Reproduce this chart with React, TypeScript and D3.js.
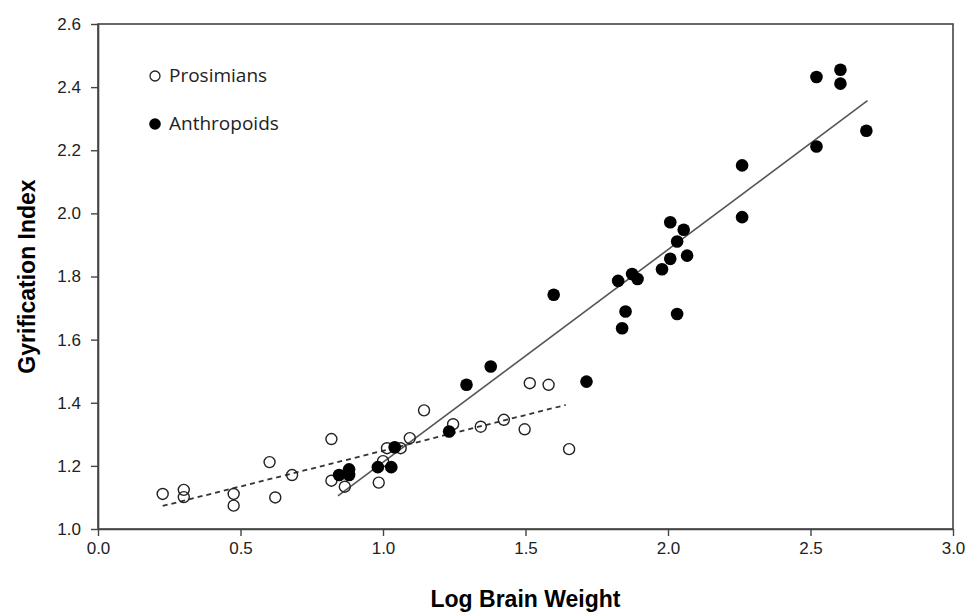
import React, { useEffect, useRef } from 'react'
import * as d3 from 'd3'

// log brain weight vs gyrification index
const prosimX = [0.227, 0.301, 0.301, 0.476, 0.476, 0.602, 0.622, 0.681, 0.819, 0.819, 0.866, 0.985, 1.0, 1.014, 1.062, 1.094, 1.144, 1.246, 1.343, 1.424, 1.497, 1.515, 1.581, 1.653]
const prosimY = [1.111, 1.124, 1.101, 1.111, 1.074, 1.212, 1.1, 1.171, 1.285, 1.153, 1.134, 1.147, 1.215, 1.256, 1.256, 1.288, 1.376, 1.332, 1.324, 1.346, 1.316, 1.462, 1.457, 1.253]

const anthroX = [0.846, 0.881, 0.881, 0.982, 1.029, 1.041, 1.232, 1.293, 1.378, 1.599, 1.714, 1.825, 1.839, 1.851, 1.874, 1.893, 1.979, 2.008, 2.008, 2.032, 2.032, 2.055, 2.067, 2.26, 2.26, 2.521, 2.521, 2.605, 2.605, 2.696]
const anthroY = [1.171, 1.189, 1.171, 1.196, 1.196, 1.259, 1.309, 1.457, 1.515, 1.742, 1.467, 1.786, 1.636, 1.689, 1.808, 1.792, 1.823, 1.972, 1.856, 1.911, 1.681, 1.948, 1.866, 2.152, 1.988, 2.432, 2.212, 2.455, 2.411, 2.262]

// regression line end points [x0, y0, x1, y1]
const prosimFit = [0.227, 1.073, 1.641, 1.393]
const anthroFit = [0.842, 1.105, 2.7, 2.357]

const xTicks = [0, 0.5, 1.0, 1.5, 2.0, 2.5, 3.0]
const yTicks = [1.0, 1.2, 1.4, 1.6, 1.8, 2.0, 2.2, 2.4, 2.6]

export default function App() {
  const svgRef = useRef<SVGSVGElement>(null)

  useEffect(() => {
    const W = 969, H = 613
    const margin = { top: 24, right: 16, bottom: 84, left: 98 }
    const width = W - margin.left - margin.right
    const height = H - margin.top - margin.bottom

    const x = d3.scaleLinear().domain([0, 3]).range([0, width])
    const y = d3.scaleLinear().domain([1, 2.6]).range([height, 0])

    const root = d3.select(svgRef.current)
    root.selectAll('*').remove()
    root.attr('width', W).attr('height', H)

    const svg = root.append('g')
      .attr('transform', 'translate(' + margin.left + ',' + margin.top + ')')

    // frame
    svg.append('rect')
      .attr('width', width).attr('height', height)
      .attr('fill', 'none').attr('stroke', '#444').attr('stroke-width', 1.6)

    const xAxis = svg.append('g')
      .attr('transform', 'translate(0,' + height + ')')
      .call(d3.axisBottom(x).tickValues(xTicks).tickFormat(d3.format('.1f')).tickSize(7).tickSizeOuter(0))
    const yAxis = svg.append('g')
      .call(d3.axisLeft(y).tickValues(yTicks).tickFormat(d3.format('.1f')).tickSize(7).tickSizeOuter(0))

    ;[xAxis, yAxis].forEach(a => {
      a.select('.domain').attr('stroke', '#444').attr('stroke-width', 1.6)
      a.selectAll('.tick line').attr('stroke', '#444').attr('stroke-width', 1.4)
      a.selectAll('.tick text')
        .style('font', '17px "Liberation Sans", Arial, sans-serif')
        .attr('fill', '#222')
    })
    xAxis.selectAll('.tick text').attr('y', 13)
    yAxis.selectAll('.tick text').attr('x', -17)

    // fit lines
    svg.append('line')
      .attr('x1', x(prosimFit[0])).attr('y1', y(prosimFit[1]))
      .attr('x2', x(prosimFit[2])).attr('y2', y(prosimFit[3]))
      .attr('stroke', '#333').attr('stroke-width', 1.8)
      .attr('stroke-dasharray', '5,4')
    svg.append('line')
      .attr('x1', x(anthroFit[0])).attr('y1', y(anthroFit[1]))
      .attr('x2', x(anthroFit[2])).attr('y2', y(anthroFit[3]))
      .attr('stroke', '#555').attr('stroke-width', 1.6)

    const prosim = prosimX.map((v, i) => ({ x: v, y: prosimY[i] }))
    const anthro = anthroX.map((v, i) => ({ x: v, y: anthroY[i] }))

    svg.append('g').selectAll('circle')
      .data(prosim).enter().append('circle')
      .attr('cx', d => x(d.x)).attr('cy', d => y(d.y))
      .attr('r', 5.5)
      .attr('fill', 'none').attr('stroke', '#222').attr('stroke-width', 1.4)

    svg.append('g').selectAll('circle')
      .data(anthro).enter().append('circle')
      .attr('cx', d => x(d.x)).attr('cy', d => y(d.y))
      .attr('r', 6.3)
      .attr('fill', '#000')

    // legend
    const legend = root.append('g')
    legend.append('circle').attr('cx', 155).attr('cy', 76).attr('r', 5)
      .attr('fill', 'none').attr('stroke', '#222').attr('stroke-width', 1.3)
    legend.append('text').attr('x', 169).attr('y', 82)
      .style('font', '19px "Open Sans", sans-serif').attr('fill', '#222')
      .text('Prosimians')
    legend.append('circle').attr('cx', 155).attr('cy', 124).attr('r', 5.8)
      .attr('fill', '#000')
    legend.append('text').attr('x', 169).attr('y', 130)
      .style('font', '19px "Open Sans", sans-serif').attr('fill', '#222')
      .text('Anthropoids')

    // axis titles
    root.append('text')
      .attr('x', margin.left + width / 2).attr('y', 607)
      .attr('text-anchor', 'middle')
      .style('font', 'bold 23px "Liberation Sans", Arial, sans-serif')
      .attr('fill', '#000')
      .text('Log Brain Weight')
    root.append('text')
      .attr('transform', 'translate(35,' + (margin.top + height / 2) + ') rotate(-90)')
      .attr('text-anchor', 'middle')
      .style('font', 'bold 23px "Liberation Sans", Arial, sans-serif')
      .attr('fill', '#000')
      .text('Gyrification Index')
  }, [])

  return <div style={{ position: 'absolute', left: 0, top: 0, background: '#fff' }}>
    <svg ref={svgRef} style={{ display: 'block' }} />
  </div>
}
